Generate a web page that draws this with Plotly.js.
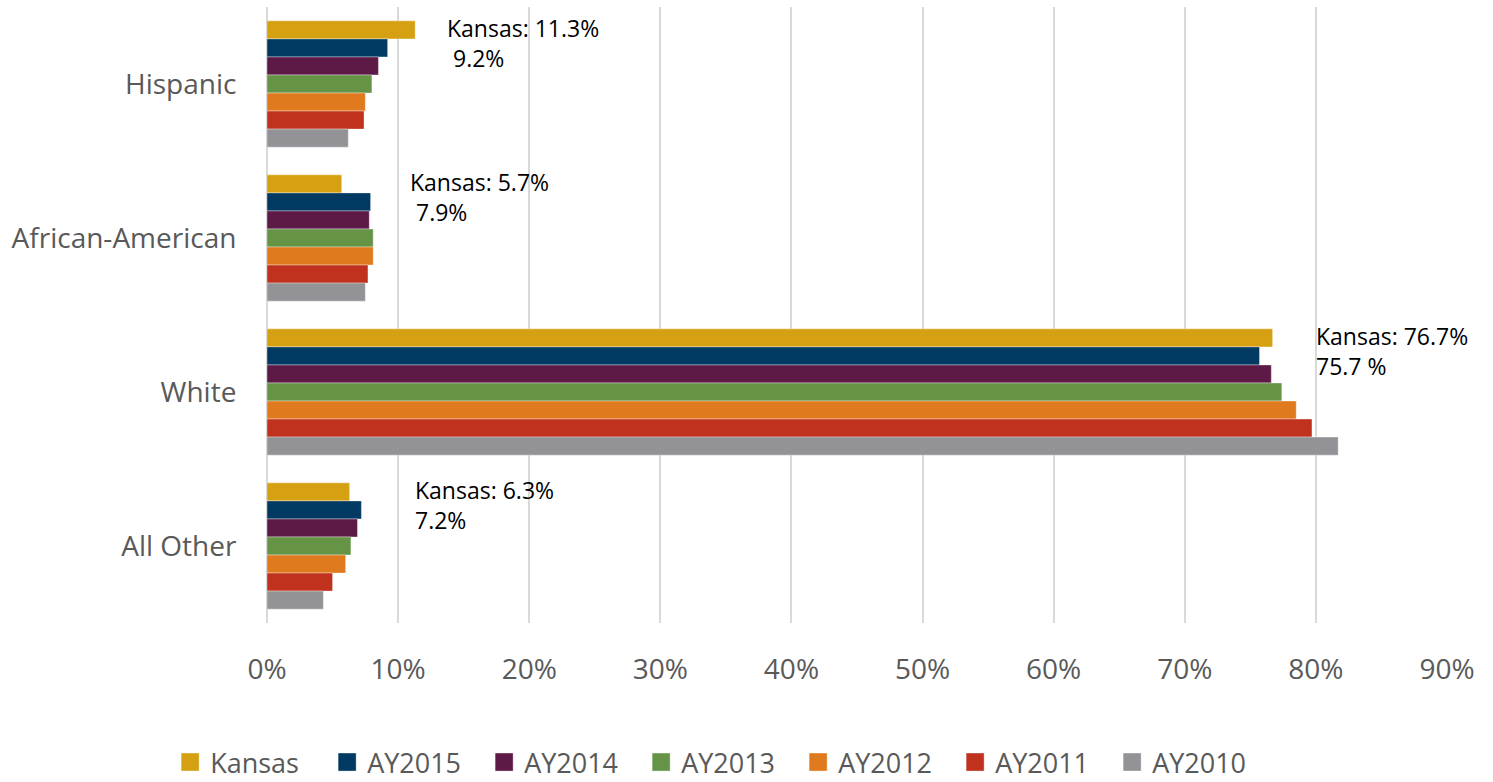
<!DOCTYPE html>
<html>
<head>
<meta charset="utf-8">
<script src="https://cdn.plot.ly/plotly-3.0.1.min.js"></script>
<style>html,body{margin:0;padding:0;background:#fff;}#chart{width:1493px;height:782px;}</style>
</head>
<body>
<div id="chart"></div>
<script>
const categories = ["Hispanic", "African-American", "White", "All Other"];
const seriesNames = ["Kansas", "AY2015", "AY2014", "AY2013", "AY2012", "AY2011", "AY2010"];
const kansas = [11.3, 5.7, 76.7, 6.3];
const ay2015 = [9.2, 7.9, 75.7, 7.2];
const ay2014 = [8.5, 7.8, 76.6, 6.9];
const ay2013 = [8.0, 8.1, 77.4, 6.4];
const ay2012 = [7.5, 8.1, 78.5, 6.0];
const ay2011 = [7.4, 7.7, 79.7, 5.0];
const ay2010 = [6.2, 7.5, 81.7, 4.3];
const seriesColors = ["#D5A012", "#003A63", "#5E1A47", "#659447", "#E07A1E", "#C0321D", "#939296"];
const labelKansas = ["Kansas: 11.3%", "Kansas: 5.7%", "Kansas: 76.7%", "Kansas: 6.3%"];
const labelSecond = ["\u00a09.2%", "\u00a07.9%", "75.7 %", "7.2%"];
const tickVals = [0, 10, 20, 30, 40, 50, 60, 70, 80, 90];
const tickText = ["0%", "10%", "20%", "30%", "40%", "50%", "60%", "70%", "80%", "90%"];

const allSeries = [kansas, ay2015, ay2014, ay2013, ay2012, ay2011, ay2010];
const traces = allSeries.map((vals, i) => ({
  type: "bar",
  orientation: "h",
  name: seriesNames[i],
  y: categories,
  x: vals,
  marker: {color: seriesColors[i], line: {color: "rgba(255,255,255,0.6)", width: 0.6}},
  hoverinfo: "x+name"
}));

const annotX = [13.55, 10.75, 79.85, 11.15];
const annotations = categories.map((c, i) => ({
  xref: "x", yref: "y", x: annotX[i], y: c,
  xanchor: "left", yanchor: "middle", yshift: 41, align: "left",
  showarrow: false,
  text: labelKansas[i] + "<br>" + labelSecond[i],
  font: {family: "Open Sans, sans-serif", size: 23, color: "#000"}
}));

const layout = {
  width: 1493, height: 782,
  margin: {l: 267, r: 46, t: 7, b: 159},
  paper_bgcolor: "#fff", plot_bgcolor: "#fff",
  barmode: "group", bargap: 0.18, bargroupgap: 0,
  font: {family: "Open Sans, sans-serif", color: "#595959"},
  xaxis: {
    range: [0, 90], tickvals: tickVals, ticktext: tickText,
    showgrid: true, gridcolor: "#D9D9D9", gridwidth: 1.5,
    zeroline: true, zerolinecolor: "#D9D9D9", zerolinewidth: 1.5,
    showline: false, ticks: "outside", ticklen: 21, tickcolor: "rgba(0,0,0,0)",
    tickfont: {size: 28, color: "#595959"}, fixedrange: true
  },
  yaxis: {
    autorange: "reversed", type: "category",
    showgrid: false, zeroline: false, showline: false,
    ticks: "outside", ticklen: 24, tickcolor: "rgba(0,0,0,0)",
    tickfont: {size: 28, color: "#595959"}, fixedrange: true
  },
  legend: {
    orientation: "h", xref: "container", yref: "container",
    x: 0.482, xanchor: "center", y: 0.0, yanchor: "bottom",
    entrywidth: 112, entrywidthmode: "pixels",
    font: {size: 27, color: "#595959"}, traceorder: "normal"
  },
  showlegend: true,
  annotations: annotations
};

function styleLegend(gd) {
  gd.querySelectorAll(".legendpoints path").forEach(p => {
    p.setAttribute("d", "M9,9H-9V-9H9Z");
  });
  const lg = gd.querySelector("g.legend");
  if (lg && !lg.dataset.shifted) {
    const t = lg.getAttribute("transform") || "";
    const m = t.match(/translate\(\s*([-\d.]+)[ ,]+([-\d.]+)\s*\)/);
    if (m) {
      lg.setAttribute("transform", "translate(" + m[1] + "," + (parseFloat(m[2]) + 5) + ")");
      lg.dataset.shifted = "1";
    }
  }
}

Plotly.newPlot("chart", traces, layout, {displayModeBar: false}).then(gd => {
  styleLegend(gd);
  gd.on("plotly_afterplot", () => styleLegend(gd));
});
</script>
</body>
</html>
